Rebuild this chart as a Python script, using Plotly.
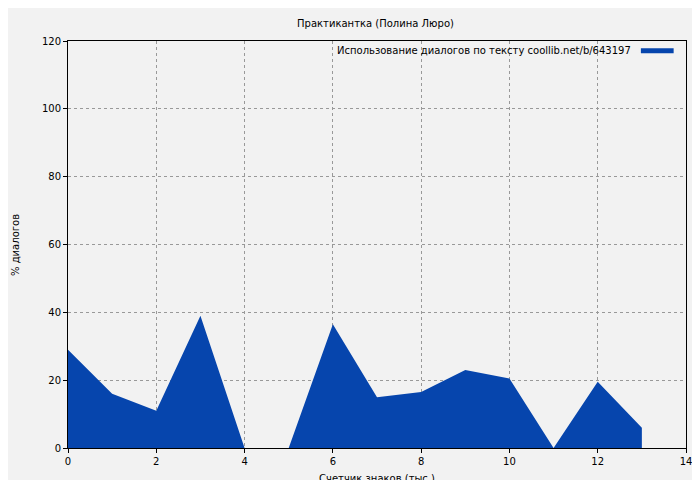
import plotly.graph_objects as go

chars_k = [0, 1, 2, 3, 4, 5, 6, 7, 8, 9, 10, 11, 12, 13]
dialog_pct = [29, 16, 11, 39, 0, 0, 36.5, 15, 16.5, 23, 20.5, 0, 19.5, 6]

fill_color = "#0645ad"

fig = go.Figure()
fig.add_trace(go.Scatter(
    x=chars_k, y=dialog_pct, mode="lines", fill="tozeroy",
    line=dict(color=fill_color, width=0), fillcolor=fill_color,
    name="Использование диалогов по тексту coollib.net/b/643197",
))
# legend sample line
fig.add_shape(type="line", xref="paper", yref="paper",
              x0=0.927, x1=0.98, y0=0.976, y1=0.976,
              line=dict(color=fill_color, width=5))
fig.add_annotation(xref="paper", yref="paper", x=0.915, y=0.976,
                   text="Использование диалогов по тексту coollib.net/b/643197",
                   showarrow=False, xanchor="right", yanchor="middle",
                   font=dict(size=10, color="black"))
fig.add_annotation(xref="paper", yref="paper", x=-0.085, y=0.5,
                   text="% диалогов", textangle=-90, showarrow=False,
                   xanchor="center", yanchor="middle", font=dict(size=10))

axis = dict(showline=True, linecolor="black", mirror=True, ticks="outside",
            ticklen=4, tickcolor="black", gridcolor="#999999", griddash="dot",
            gridwidth=1, zeroline=False, automargin=False,
            tickfont=dict(size=10, color="black"))

fig.update_layout(
    width=700, height=480,
    paper_bgcolor="#f2f2f2", plot_bgcolor="#f2f2f2",
    font=dict(family="DejaVu Sans", size=10, color="black"),
    margin=dict(l=60, r=22, t=33, b=40),
    showlegend=False,
    title=dict(text="Практикантка (Полина Люро)", x=0.525, y=0.967,
               xanchor="center", yanchor="middle", font=dict(size=10)),
    xaxis=dict(axis, range=[0, 14], dtick=2,
               title=dict(text="Счетчик знаков (тыс.)", font=dict(size=10), standoff=8)),
    yaxis=dict(axis, range=[0, 120], dtick=20),
)

fig.write_html("out.html")
